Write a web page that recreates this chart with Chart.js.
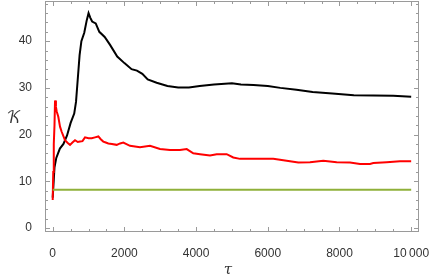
<!DOCTYPE html>
<html>
<head>
<meta charset="utf-8">
<script src="https://cdn.jsdelivr.net/npm/chart.js@4"></script>
<style>
  body { margin: 0; background: #fff; }
  #grafica { display: block; }
</style>
</head>
<body>
<canvas id="grafica" width="432" height="278"></canvas>
<script>
// black series
const tauNegro = [0, 50, 100, 200, 300, 400, 500, 600, 650, 700, 750, 800, 880, 950, 1000, 1050, 1100, 1200, 1300, 1450, 1600, 1800, 2000, 2200, 2350, 2500, 2650, 2900, 3200, 3500, 3800, 4100, 4500, 5000, 5250, 5600, 6000, 6350, 6800, 7250, 7800, 8400, 9500, 10000];
const kNegro = [6.5, 13, 15, 17, 18, 19.8, 22.5, 24.5, 27, 32, 37, 40, 41.8, 44.5, 46, 45, 44.2, 43.8, 42, 40.9, 39.2, 36.7, 35.3, 34, 33.7, 33, 31.8, 31.1, 30.4, 30.1, 30.1, 30.4, 30.7, 31, 30.7, 30.6, 30.4, 30, 29.6, 29.1, 28.8, 28.4, 28.3, 28.1];
// red series
const tauRojo = [0, 15, 30, 50, 65, 90, 110, 156, 204, 250, 343, 420, 483, 550, 622, 700, 761, 830, 901, 1000, 1088, 1180, 1273, 1340, 1411, 1480, 1551, 1650, 1785, 1880, 1970, 2156, 2435, 2714, 2993, 3271, 3550, 3738, 3922, 4109, 4388, 4575, 4853, 5037, 5225, 5875, 6153, 6340, 6619, 6851, 7177, 7548, 7922, 8293, 8572, 8851, 8943, 9316, 9688, 10000];
const kRojo = [6, 12, 18, 22, 27.3, 26, 25, 23.8, 21.7, 20.6, 18.8, 18.2, 17.8, 18.3, 18.8, 18.4, 18.5, 18.6, 19.4, 19.2, 19.2, 19.4, 19.6, 19.0, 18.5, 18.3, 18.1, 18.0, 17.8, 18.1, 18.3, 17.6, 17.3, 17.6, 16.9, 16.7, 16.7, 16.9, 16.0, 15.8, 15.5, 15.8, 15.8, 15.1, 14.8, 14.8, 14.8, 14.6, 14.3, 14.0, 14.1, 14.4, 14.1, 14.0, 13.7, 13.7, 13.9, 14.1, 14.3, 14.3];
// green series
const tauVerde = [0, 10000];
const kVerde = [8.2, 8.2];

const xTicks = [0, 2000, 4000, 6000, 8000, 10000];
const xTickLabels = ["0", "2000", "4000", "6000", "8000", "10\u2009000"];
const yTicks = [0, 10, 20, 30, 40];
const yTickLabels = ["0", "10", "20", "30", "40"];

function puntos(xs, ys) {
  return xs.map((x, i) => ({ x: x, y: ys[i] }));
}

const marco = {
  id: "marco",
  afterDraw(chart) {
    const ctx = chart.ctx;
    const a = chart.chartArea;
    const sx = chart.scales.x;
    const sy = chart.scales.y;
    ctx.save();
    ctx.strokeStyle = "#9a9a9a";
    ctx.lineWidth = 1;
    ctx.strokeRect(a.left + 0.5, a.top + 0.5, a.right - a.left - 1, a.bottom - a.top - 1);
    ctx.beginPath();
    for (let v = 0; v <= 10000; v += 500) {
      const px = Math.round(sx.getPixelForValue(v)) + 0.5;
      const len = v % 2000 === 0 ? 5 : 3;
      ctx.moveTo(px, a.bottom); ctx.lineTo(px, a.bottom - len);
      ctx.moveTo(px, a.top); ctx.lineTo(px, a.top + len);
    }
    for (let v = 0; v <= 48; v += 2) {
      const py = Math.round(sy.getPixelForValue(v)) + 0.5;
      const len = v % 10 === 0 ? 5 : 3;
      ctx.moveTo(a.left, py); ctx.lineTo(a.left + len, py);
      ctx.moveTo(a.right, py); ctx.lineTo(a.right - len, py);
    }
    ctx.stroke();
    ctx.fillStyle = "#333";
    ctx.textAlign = "center";
    ctx.textBaseline = "middle";
    ctx.font = "italic 15px 'DejaVu Serif'";
    ctx.fillText("τ", 228, 270);
    ctx.font = "16px 'DejaVu Math TeX Gyre', 'DejaVu Sans', serif";
    ctx.fillText("𝒦", 14, 118);
    ctx.restore();
  },
};

const cxt = document.getElementById("grafica");
const myChart = new Chart(cxt, {
  type: "scatter",
  data: {
    datasets: [
      {
        data: puntos(tauVerde, kVerde),
        showLine: true,
        borderColor: "rgb(143, 176, 58)",
        borderWidth: 2,
        pointRadius: 0,
      },
      {
        data: puntos(tauRojo, kRojo),
        showLine: true,
        borderColor: "rgb(255, 0, 0)",
        borderWidth: 2,
        pointRadius: 0,
      },
      {
        data: puntos(tauNegro, kNegro),
        showLine: true,
        borderColor: "rgb(0, 0, 0)",
        borderWidth: 2,
        pointRadius: 0,
      },
    ],
  },
  options: {
    responsive: false,
    animation: false,
    layout: { padding: { top: 1, right: 13, left: 0, bottom: 0 } },
    plugins: { legend: { display: false }, tooltip: { enabled: false } },
    scales: {
      x: {
        type: "linear",
        min: -215,
        max: 10218,
        afterFit: (scale) => {
          scale.height = 46;
          scale.paddingLeft = 0;
          scale.paddingRight = 0;
        },
        afterBuildTicks: (scale) => { scale.ticks = xTicks.map((v) => ({ value: v })); },
        grid: { display: false },
        border: { display: false },
        ticks: {
          padding: 6,
          color: "#333",
          font: { family: "'Liberation Sans'", size: 12 },
          maxRotation: 0,
          callback: (v) => xTickLabels[xTicks.indexOf(v)],
        },
      },
      y: {
        type: "linear",
        min: -0.86,
        max: 48.6,
        afterFit: (scale) => {
          scale.width = 45;
          scale.paddingTop = 0;
          scale.paddingBottom = 0;
        },
        afterBuildTicks: (scale) => { scale.ticks = yTicks.map((v) => ({ value: v })); },
        grid: { display: false },
        border: { display: false },
        ticks: {
          padding: 5,
          color: "#333",
          font: { family: "'Liberation Sans'", size: 12 },
          callback: (v) => yTickLabels[yTicks.indexOf(v)],
        },
      },
    },
  },
  plugins: [marco],
});
</script>
</body>
</html>
